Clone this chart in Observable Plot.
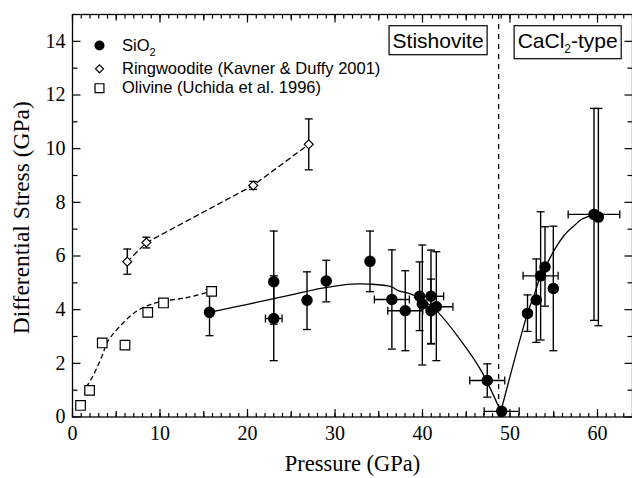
<!DOCTYPE html>
<html><head><meta charset="utf-8">
<script src="https://cdn.jsdelivr.net/npm/d3@7"></script>
<script src="https://cdn.jsdelivr.net/npm/@observablehq/plot@0.6"></script>
<style>
body{margin:0;background:#fff;}
#chart svg{display:block;}
</style></head><body><div id="chart"></div>
<script>
// ---- SiO2 data (Pressure GPa, Differential stress GPa, error bar ends, pressure half-error)
const sio2P   = [15.66,23.0,23.0,26.8,29.0,34.0,36.5,38.03,39.67,39.98,40.97,40.97,41.58,47.4,49.05,52.0,53.0,53.5,54.0,54.95,59.6,60.1];
const sio2S   = [3.90,5.04,3.67,4.35,5.07,5.80,4.38,3.96,4.50,4.21,4.50,3.96,4.11,1.36,0.21,3.86,4.36,5.26,5.59,4.79,7.55,7.45];
const sio2Lo  = [3.03,3.46,2.10,3.26,4.29,4.67,2.53,2.47,3.22,1.94,2.74,2.72,2.10,0.74,null,3.19,2.78,2.87,4.13,2.47,3.60,3.40];
const sio2Hi  = [4.75,6.93,5.26,5.41,5.84,6.93,6.23,5.45,5.78,6.41,6.22,5.14,6.16,1.98,null,4.55,5.89,7.65,7.09,7.11,11.50,11.50];
const sio2PErr= [0,0,0.95,0,0,0,2.0,2.0,0,0,1.45,0,1.9,2.0,2.0,0,0,2.0,0,0.4,2.95,0];

// ---- Ringwoodite (Kavner & Duffy 2001)
const ringP   = [6.26,8.44,20.65,27.0];
const ringS   = [5.79,6.50,8.63,10.16];
const ringErr = [0.47,0.20,0.15,0.95];

// ---- Olivine (Uchida et al. 1996)
const olivP = [0.92,1.95,3.4,6.0,8.6,10.4,15.9];
const olivS = [0.43,0.99,2.76,2.68,3.90,4.25,4.68];

// ---- fitted curves
const olivFitP = [1.6,2.26,3.4,3.97,5.3,7.41,9.7,13.1,15.4];
const olivFitS = [1.13,1.48,2.29,2.78,3.34,3.96,4.27,4.45,4.64];
const fit1P = [15.66,20,25.4,28.4,31.8,34.0,36.4,37.3,38.7,41.4,44.4,46.7,48.95];
const fit1S = [3.90,4.20,4.58,4.79,4.95,4.95,4.86,4.70,4.58,4.02,2.84,1.73,0.20];
const fit2P = [48.95,52.0,52.8,53.5,54.0,54.4,55.3,56.3,57.3,58.2,59.0,59.7];
const fit2S = [0.20,3.86,4.58,5.26,5.55,5.82,6.35,6.81,7.12,7.37,7.48,7.53];

// ---- phase boundary and labels
const transitionP = 48.7;
const phaseLabels = ["Stishovite", "CaCl2-type"];
const legendLabels = ["SiO2", "Ringwoodite (Kavner & Duffy 2001)", "Olivine (Uchida et al. 1996)"];

// ---- axes
const xDomain = [0, 64];
const yDomain = [0, 15];
const xTickLabels = [0,10,20,30,40,50,60];
const yTickLabels = [0,2,4,6,8,10,12,14];
const xMinor = d3.range(0, 65, 1);
const xMid = d3.range(5, 65, 10);
const yMinor = d3.range(1, 15, 2);

const sio2 = sio2P.map((p, i) => ({p, s: sio2S[i], lo: sio2Lo[i], hi: sio2Hi[i], pe: sio2PErr[i]}));
const sio2V = sio2.filter(d => d.lo != null);
const sio2H = sio2.filter(d => d.pe > 0);
const ring = ringP.map((p, i) => ({p, s: ringS[i], e: ringErr[i]}));
const oliv = olivP.map((p, i) => ({p, s: olivS[i]}));
const olivFit = olivFitP.map((p, i) => ({p, s: olivFitS[i]}));
const fit1 = fit1P.map((p, i) => ({p, s: fit1S[i]}));
const fit2 = fit2P.map((p, i) => ({p, s: fit2S[i]}));

const diamond = d3.symbolDiamond2 || {draw(ctx, size){const r=Math.sqrt(size)*0.62625;ctx.moveTo(0,-r);ctx.lineTo(r,0);ctx.lineTo(0,r);ctx.lineTo(-r,0);ctx.closePath();}};

const tick = (data, o) => Plot.vector(data, {r: 0, anchor: "start", stroke: "black", strokeWidth: 1.2, strokeLinecap: "butt", ...o});
const cap = (data, o) => Plot.vector(data, {r: 0, anchor: "middle", length: 8, stroke: "black", strokeWidth: 1.3, strokeLinecap: "butt", ...o});

const sans = "Liberation Sans, Arial, Helvetica, sans-serif";
const legendDy = [31, 54.3, 73.7];
const legendText = (i) => Plot.text([legendLabels[i]], {frameAnchor: "top-left", text: d => d, dx: 49.5, dy: legendDy[i], textAnchor: "start", lineAnchor: "middle", fontFamily: sans, fontSize: 16.5});

const plot = Plot.plot({
  width: 632, height: 478,
  marginLeft: 72, marginRight: 0, marginTop: 14, marginBottom: 61.5,
  style: {fontFamily: "Liberation Serif, Times New Roman, serif", fontSize: "20px", color: "black", background: "white"},
  x: {domain: xDomain},
  y: {domain: yDomain},
  marks: [
    // axis tick labels
    Plot.axisX({anchor: "bottom", ticks: xTickLabels, tickSize: 0, tickPadding: 9, label: null, fontSize: 20}),
    Plot.axisY({anchor: "left", ticks: yTickLabels, tickSize: 0, tickPadding: 7, label: null, fontSize: 20}),
    // axis titles
    Plot.text(["Pressure (GPa)"], {frameAnchor: "bottom", text: d => d, dy: 47, textAnchor: "middle", lineAnchor: "middle", fontSize: 22.5}),
    Plot.text(["Differential Stress (GPa)"], {frameAnchor: "left", text: d => d, dx: -51, dy: 2, rotate: -90, textAnchor: "middle", lineAnchor: "middle", fontSize: 23.5}),
    // inward ticks: bottom / top
    tick(xMinor, {x: d => d, y: () => 0, length: 4, rotate: 0}),
    tick(xMid, {x: d => d, y: () => 0, length: 6, rotate: 0}),
    tick(xTickLabels, {x: d => d, y: () => 0, length: 8, rotate: 0}),
    tick(xMinor, {x: d => d, y: () => 15, length: 4, rotate: 180}),
    tick(xMid, {x: d => d, y: () => 15, length: 6, rotate: 180}),
    tick(xTickLabels, {x: d => d, y: () => 15, length: 8, rotate: 180}),
    // left / right
    tick(yMinor, {y: d => d, x: () => 0, length: 5, rotate: 90}),
    tick(yTickLabels, {y: d => d, x: () => 0, length: 8, rotate: 90}),
    tick(yMinor, {y: d => d, x: () => 64, length: 5, rotate: 270}),
    tick(yTickLabels, {y: d => d, x: () => 64, length: 8, rotate: 270}),
    Plot.frame({stroke: "black", strokeWidth: 1.3}),
    // phase boundary
    Plot.ruleX([transitionP], {stroke: "black", strokeWidth: 1.3, strokeDasharray: "5,5"}),
    // fit curves
    Plot.line(olivFit, {x: "p", y: "s", curve: "catmull-rom", stroke: "black", strokeWidth: 1.3, strokeDasharray: "4,4"}),
    Plot.line(ring, {x: "p", y: "s", stroke: "black", strokeWidth: 1.3, strokeDasharray: "5,4"}),
    Plot.line(fit1, {x: "p", y: "s", curve: "catmull-rom", stroke: "black", strokeWidth: 1.3}),
    Plot.line(fit2, {x: "p", y: "s", curve: "catmull-rom", stroke: "black", strokeWidth: 1.3}),
    // error bars SiO2
    Plot.ruleX(sio2V, {x: "p", y1: "lo", y2: "hi", stroke: "black", strokeWidth: 1.4}),
    cap(sio2V, {x: "p", y: "lo", rotate: 90}),
    cap(sio2V, {x: "p", y: "hi", rotate: 90}),
    Plot.ruleY(sio2H, {y: "s", x1: d => d.p - d.pe, x2: d => d.p + d.pe, stroke: "black", strokeWidth: 1.4}),
    cap(sio2H, {x: d => d.p - d.pe, y: "s", rotate: 0}),
    cap(sio2H, {x: d => d.p + d.pe, y: "s", rotate: 0}),
    // error bars ringwoodite
    Plot.ruleX(ring, {x: "p", y1: d => d.s - d.e, y2: d => d.s + d.e, stroke: "black", strokeWidth: 1.4}),
    cap(ring, {x: "p", y: d => d.s - d.e, rotate: 90}),
    cap(ring, {x: "p", y: d => d.s + d.e, rotate: 90}),
    // markers
    Plot.dot(oliv, {x: "p", y: "s", symbol: "square", r: 5.4, fill: "white", stroke: "black", strokeWidth: 1.2}),
    Plot.dot(ring, {x: "p", y: "s", symbol: diamond, r: 4, fill: "white", stroke: "black", strokeWidth: 1.2}),
    Plot.dot(sio2, {x: "p", y: "s", r: 5, fill: "black", stroke: "black"}),
    // legend
    Plot.dot([0], {frameAnchor: "top-left", dx: 27, dy: legendDy[0], r: 5, fill: "black"}),
    Plot.dot([0], {frameAnchor: "top-left", dx: 27, dy: legendDy[1], symbol: diamond, r: 3.6, fill: "white", stroke: "black", strokeWidth: 1.2}),
    Plot.dot([0], {frameAnchor: "top-left", dx: 27, dy: legendDy[2], symbol: "square", r: 5, fill: "white", stroke: "black", strokeWidth: 1.2}),
    legendText(0), legendText(1), legendText(2),
    // phase labels
    Plot.text([phaseLabels[0]], {x: () => transitionP, frameAnchor: "top", text: d => d, dx: -15, dy: 26.5, textAnchor: "end", lineAnchor: "middle", fontFamily: sans, fontSize: 21}),
    Plot.text([phaseLabels[1]], {x: () => transitionP, frameAnchor: "top", text: d => d, dx: 19, dy: 26.5, textAnchor: "start", lineAnchor: "middle", fontFamily: sans, fontSize: 21})
  ]
});
document.getElementById("chart").appendChild(plot);

const svg = d3.select(plot);
function subscript(el, before, sub, after, size, shift) {
  el.textContent = "";
  const ns = "http://www.w3.org/2000/svg";
  const a = document.createElementNS(ns, "tspan"); a.textContent = before; el.appendChild(a);
  const b = document.createElementNS(ns, "tspan"); b.textContent = sub; b.setAttribute("font-size", size); b.setAttribute("dy", shift); el.appendChild(b);
  if (after) { const c = document.createElementNS(ns, "tspan"); c.textContent = after; c.setAttribute("dy", -shift); el.appendChild(c); }
}
svg.selectAll("text").each(function() {
  const t = this.textContent;
  if (t === "SiO2") subscript(this, "SiO", "2", "", 11, 5);
  else if (t === "CaCl2-type") {
    subscript(this, "CaCl", "2", "-type", 12, 5);
    this.setAttribute("data-box", "1");
  } else if (t === "Stishovite") this.setAttribute("data-box", "1");
});
svg.selectAll("text[data-box]").each(function() {
  const bb = this.getBBox();
  const tr = this.getAttribute("transform") || "";
  const r = document.createElementNS("http://www.w3.org/2000/svg", "rect");
  r.setAttribute("x", bb.x - 3.5); r.setAttribute("y", bb.y - 3);
  r.setAttribute("width", bb.width + 7); r.setAttribute("height", bb.height + 6);
  r.setAttribute("fill", "white"); r.setAttribute("stroke", "black"); r.setAttribute("stroke-width", 1.2);
  if (tr) r.setAttribute("transform", tr);
  this.parentNode.insertBefore(r, this);
});
</script></body></html>
